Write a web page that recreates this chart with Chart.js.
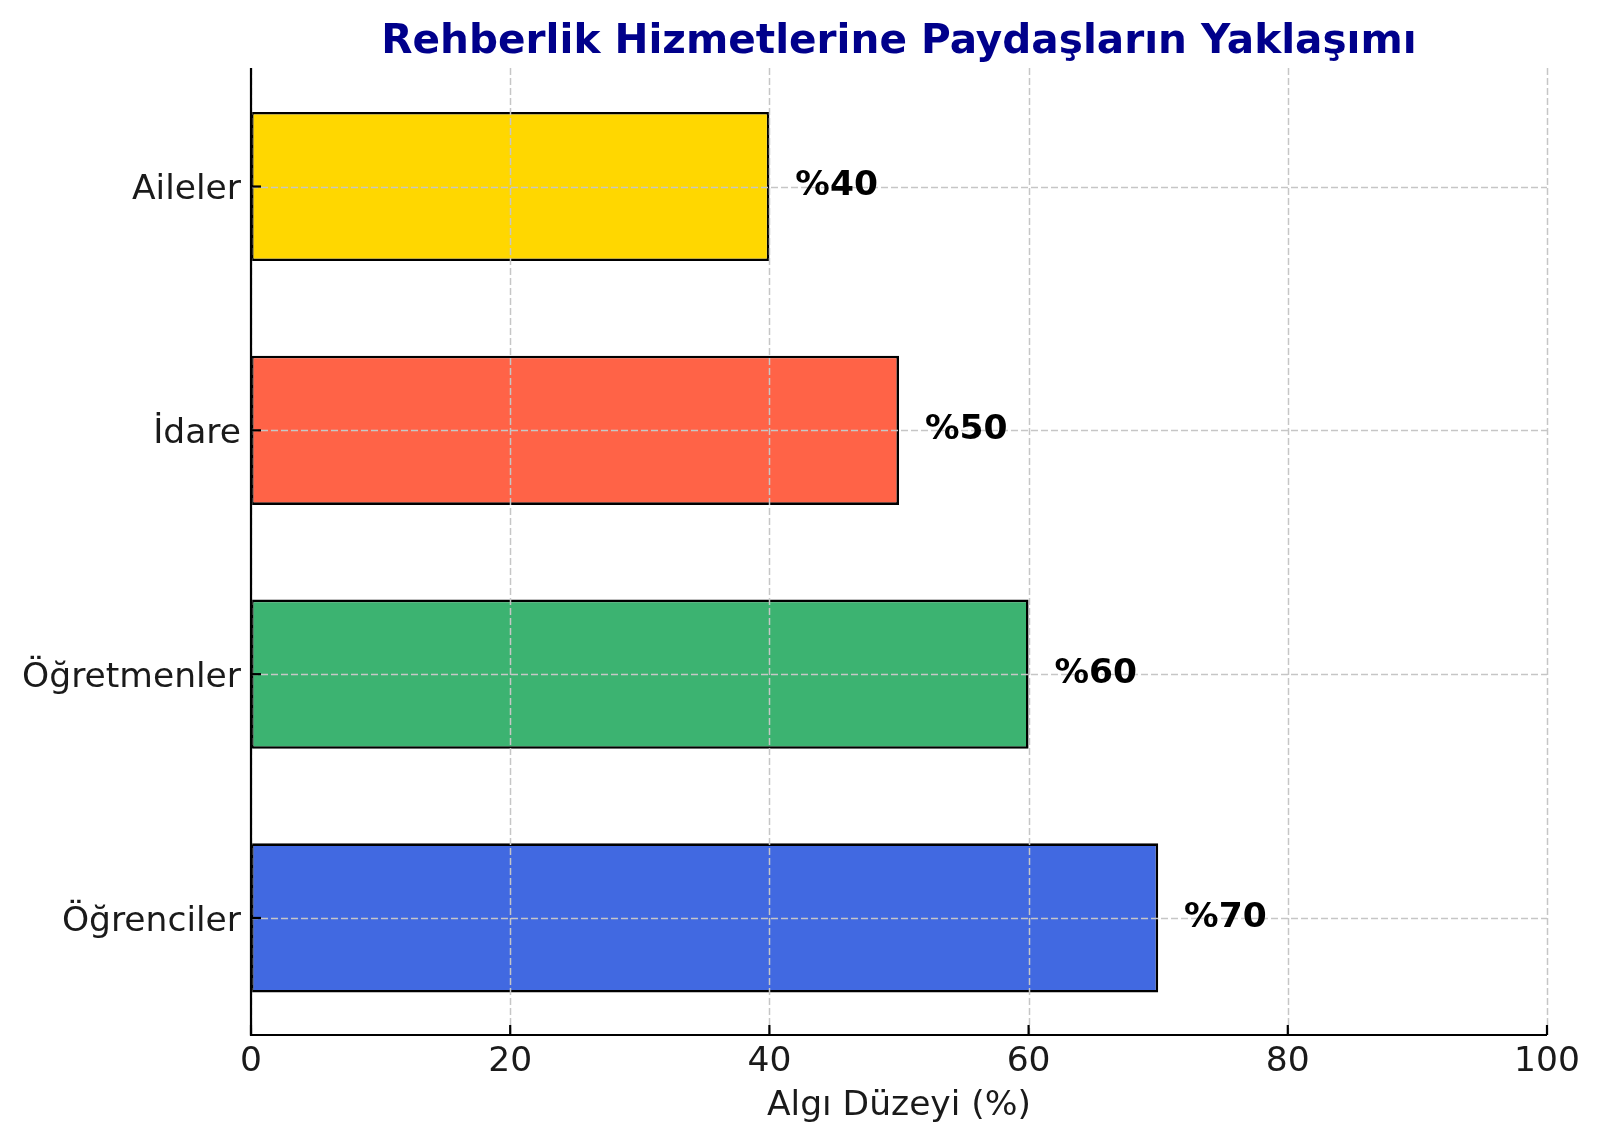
<!DOCTYPE html>
<html>
<head>
<meta charset="utf-8">
<script src="https://cdn.jsdelivr.net/npm/chart.js@4"></script>
<style>
  html, body { margin: 0; padding: 0; background: #fff; }
  canvas { display: block; }
</style>
</head>
<body>
<canvas id="c" width="1600" height="1143"></canvas>
<script>
const titleText = 'Rehberlik Hizmetlerine Paydaşların Yaklaşımı';
const xAxisTitle = 'Algı Düzeyi (%)';
// bottom-to-top order (index 0 at the bottom)
const categories = ['Öğrenciler', 'Öğretmenler', 'İdare', 'Aileler'];
const values = [70, 60, 50, 40];
const barColors = ['#4169E1', '#3CB371', '#FF6347', '#FFD700'];
const xTicks = [0, 20, 40, 60, 80, 100];
const valueLabels = values.map(v => '%' + v);

const FONT = "'DejaVu Sans', 'Noto Sans', sans-serif";

const overlay = {
  id: 'overlay',
  afterDatasetsDraw(chart) {
    const { ctx, chartArea: { left, right, top, bottom }, scales: { x, y } } = chart;
    ctx.save();
    ctx.setLineDash([7, 3]);
    ctx.strokeStyle = '#c6c6c6';
    ctx.lineWidth = 1.5;
    xTicks.forEach(t => {
      const px = Math.round(x.getPixelForValue(t)) + 0.5;
      ctx.beginPath(); ctx.moveTo(px, top); ctx.lineTo(px, bottom); ctx.stroke();
    });
    categories.forEach((c, i) => {
      const py = Math.round(y.getPixelForValue(i)) + 0.5;
      ctx.beginPath(); ctx.moveTo(left, py); ctx.lineTo(right, py); ctx.stroke();
    });
    ctx.setLineDash([]);
    ctx.strokeStyle = '#000';
    ctx.lineWidth = 2.2;
    ctx.beginPath(); ctx.moveTo(left, top); ctx.lineTo(left, bottom); ctx.lineTo(right, bottom); ctx.stroke();
    xTicks.forEach(t => {
      const px = x.getPixelForValue(t);
      ctx.beginPath(); ctx.moveTo(px, bottom); ctx.lineTo(px, bottom - 10); ctx.stroke();
    });
    categories.forEach((c, i) => {
      const py = y.getPixelForValue(i);
      ctx.beginPath(); ctx.moveTo(left, py); ctx.lineTo(left + 10, py); ctx.stroke();
    });
    ctx.fillStyle = '#000';
    ctx.font = 'bold 34.5px ' + FONT;
    ctx.textAlign = 'left';
    ctx.textBaseline = 'middle';
    values.forEach((v, i) => {
      ctx.fillText(valueLabels[i], x.getPixelForValue(v + 2), y.getPixelForValue(i));
    });
    ctx.restore();
  }
};

new Chart(document.getElementById('c'), {
  type: 'bar',
  data: {
    datasets: [{
      data: values.map((v, i) => ({ x: v, y: i })),
      backgroundColor: barColors,
      borderColor: '#000',
      borderWidth: 2.6,
      borderSkipped: false,
      barPercentage: 0.612,
      categoryPercentage: 1.0
    }]
  },
  options: {
    indexAxis: 'y',
    responsive: false,
    animation: false,
    devicePixelRatio: 1,
    layout: { padding: { left: 0, right: 53, top: 0, bottom: 0 } },
    plugins: {
      legend: { display: false },
      tooltip: { enabled: false },
      title: {
        display: true,
        text: titleText,
        color: '#00008B',
        fullSize: false,
        font: { family: FONT, size: 40.6, weight: 'bold' },
        padding: { top: 18, bottom: 1.3 }
      }
    },
    scales: {
      x: {
        type: 'linear',
        min: 0, max: 100,
        afterBuildTicks: s => { s.ticks = xTicks.map(v => ({ value: v })); },
        ticks: { color: '#1a1a1a', font: { family: FONT, size: 34.5 }, padding: 6, maxRotation: 0 },
        grid: { display: false, drawTicks: false },
        border: { display: false },
        title: { display: true, text: xAxisTitle, color: '#1a1a1a', font: { family: FONT, size: 34.5 }, padding: { top: 6, bottom: 16 } },
        afterFit: s => { s.height = 108; }
      },
      y: {
        type: 'linear',
        offset: false,
        min: -0.48, max: 3.486,
        afterBuildTicks: s => { s.ticks = categories.map((c, i) => ({ value: i })); },
        ticks: { color: '#1a1a1a', font: { family: FONT, size: 34.5 }, padding: 10, labelOffset: 4, callback: v => categories[v] },
        grid: { display: false, drawTicks: false, offset: false },
        border: { display: false },
        afterFit: s => { s.width = 251; }
      }
    }
  },
  plugins: [overlay]
});
</script>
</body>
</html>
